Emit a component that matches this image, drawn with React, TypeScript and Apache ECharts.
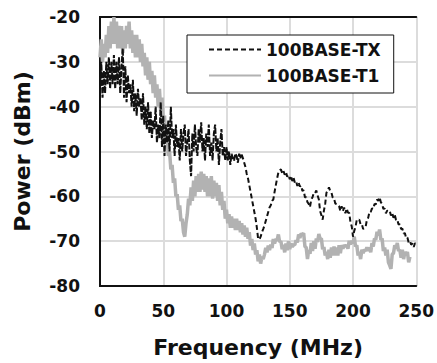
import React, { useEffect, useRef } from "react";
import * as echarts from "echarts";

// Frequency step: 1 MHz, starting at 0 MHz (index = MHz)
const xTicks = [0, 50, 100, 150, 200, 250];
const yTicks = [-80, -70, -60, -50, -40, -30, -20];

const seriesNames = ["100BASE-TX", "100BASE-T1"];

// 100BASE-TX power (dBm), 0..250 MHz
const txPower = [
  -36, -30, -38, -32, -37, -30, -35, -29, -36, -30,
  -35, -28.5, -36, -30, -35, -29, -37, -31, -27, -38,
  -31, -39, -33, -37, -35, -40, -34, -41, -37, -42,
  -36, -40, -38, -43, -37, -44, -40, -45, -39, -46,
  -41, -47, -43, -45, -40, -48, -44, -47, -39, -49,
  -42, -51, -44, -48, -43, -50, -40, -47, -45, -51,
  -44, -49, -47, -52, -45, -50, -46, -44, -51, -48,
  -45, -52, -55.5, -46, -50, -44, -49, -51, -45, -48,
  -43.5, -50, -47, -52, -46, -49, -44, -51, -48, -52,
  -46, -44, -50, -47, -53, -48, -45, -51, -49, -52,
  -49, -52, -50, -53, -50.5, -51.5, -52, -50.5, -51, -52.5,
  -50.5, -51.5, -50.7, -51.5, -52.5, -53.5, -55, -56, -57.5, -59,
  -60.5, -62, -63.5, -65, -67, -69.5, -69.6, -69, -68, -67.3,
  -66.5, -65.5, -64.5, -63.5, -62.5, -62, -61, -60.7, -59, -57.5,
  -56, -54.7, -54.2, -54, -54.8, -54.3, -55.2, -54.6, -55.6, -55.2,
  -56.2, -55.4, -56.6, -55.8, -56.9, -56.6, -57.7, -56.9, -57.8, -57.6,
  -58.8, -58.6, -60.2, -60.2, -61.3, -61.7, -62.4, -60.7, -60.2, -59.2,
  -59.3, -58.7, -59.8, -60.7, -63.3, -64.2, -65.2, -63.2, -61.7, -59.2,
  -58.7, -58, -58.8, -59.2, -60.3, -60.5, -61.6, -61.7, -61.8, -62.2,
  -63.3, -62.2, -63.3, -62.5, -63.8, -62.7, -63.6, -63.7, -65.8, -66.7,
  -69, -67.7, -66.8, -65.2, -65.3, -65.2, -66.3, -66.2, -67.3, -67,
  -66.8, -65.2, -64.8, -63.5, -63.5, -62.7, -62.8, -61.7, -61.8, -60.7,
  -61, -60.2, -61.3, -61.7, -62.8, -62.7, -63.8, -63.2, -63.3, -63.2,
  -64.3, -63.7, -64.8, -64.1, -65.3, -65.2, -66.3, -66.2, -67.3, -67.2,
  -68.3, -68.2, -69.3, -69.2, -70.3, -70, -70.8, -70.5, -71.3, -70.4,
  -71,
];

// 100BASE-T1 power (dBm), 0..245 MHz
const t1Power = [
  -29, -25, -30, -26, -29, -24, -28, -22, -27, -21,
  -26, -20, -26, -21, -27, -22, -27, -22, -28, -23,
  -27, -22, -26, -21, -27, -23, -28, -24, -29, -24,
  -29, -25, -30, -26, -31, -28, -33, -29, -34, -30,
  -35, -32, -37, -33, -38, -35, -40, -36, -41, -38,
  -43, -42, -47, -46, -51, -50, -54, -53, -57, -56,
  -60, -59.5, -63, -62, -65.5, -65, -68, -69, -66, -64,
  -60.5, -62, -58, -61, -56.5, -60, -55.5, -59, -55, -59,
  -54.5, -58.5, -55, -59, -55.5, -60, -56, -60, -55.5, -60.5,
  -56.5, -60, -57, -61, -57.5, -62, -59, -63, -61, -65,
  -63, -66, -64, -67, -64.5, -67, -65, -67.5, -65, -67.5,
  -65.5, -68, -66, -68.5, -66.5, -69, -67, -69.5, -68, -71,
  -69.5, -72, -70.5, -73, -72, -74.5, -73, -75, -73.5, -74,
  -73, -71.5, -72.5, -71, -72, -70.8, -71.5, -69.5, -70.5, -69.5,
  -69.8, -68.5, -70.2, -70, -71.8, -70.8, -72.5, -70.5, -72, -70,
  -71.8, -70.5, -71.3, -70.8, -70.8, -69.8, -70.3, -68.5, -69.3, -68.3,
  -68.6, -68.2, -71.2, -71.4, -74, -72, -72.8, -70.4, -72.2, -70,
  -71.7, -69.4, -70.2, -68.4, -69.5, -69.4, -71.8, -71.3, -73.2, -72.4,
  -74, -71.9, -73.7, -71.4, -73.2, -71.2, -73.2, -71.4, -73.2, -70.9,
  -72.7, -70.9, -71.7, -70.9, -71.2, -70.9, -71.7, -69.9, -70.7, -69.9,
  -70.5, -69, -71.2, -70.9, -73.2, -72.4, -74, -71.9, -72.7, -71.9,
  -72.2, -71.4, -72.2, -71.4, -72.5, -70.4, -71.2, -69.4, -69.7, -67.9,
  -68.7, -67.4, -69.7, -69.4, -72.2, -71.4, -73.2, -71.9, -74.7, -75.4,
  -76.2, -72.9, -72.7, -70.9, -71.7, -70.4, -72.2, -71.9, -73.7, -71.9,
  -74, -72.4, -73.2, -72.4, -74.7, -73.5,
];

// index where the noisy TX segment ends and the smoother segment begins
const txNoisyEnd = 112;

const FONT = "DejaVu Sans";

export default function App() {
  const ref = useRef<HTMLDivElement>(null);

  useEffect(() => {
    if (!ref.current) return;
    const chart = echarts.init(ref.current, undefined, { renderer: "svg" });
    const txData = txPower.map((v, i) => [i, v]);
    const t1Data = t1Power.map((v, i) => [i, v]);

    const axisText = { fontFamily: FONT, fontWeight: "bold", fontSize: 17, color: "#111" };

    chart.setOption({
      animation: false,
      backgroundColor: "#fff",
      grid: { left: 100, right: 18, top: 17, bottom: 76, containLabel: false },
      legend: {
        data: [seriesNames[0], seriesNames[1]],
        orient: "vertical",
        left: 187,
        top: 35,
        padding: [6, 13, 9, 21],
        itemWidth: 52,
        itemHeight: 14,
        itemGap: 9,
        itemStyle: { opacity: 0 },
        backgroundColor: "#fff",
        borderColor: "#111",
        borderWidth: 1,
        borderRadius: 0,
        textStyle: axisText,
      },
      xAxis: [
        {
          type: "value",
          min: xTicks[0],
          max: xTicks[xTicks.length - 1],
          interval: 50,
          name: "Frequency (MHz)",
          nameLocation: "middle",
          nameGap: 50,
          nameTextStyle: { fontFamily: FONT, fontWeight: "bold", fontSize: 22, color: "#111" },
          axisLine: { show: true, lineStyle: { color: "#111", width: 2 } },
          axisTick: { show: false },
          axisLabel: { margin: 16, ...axisText },
          splitLine: { show: true, lineStyle: { color: "#dcdcdc", width: 2 } },
        },
        {
          type: "value",
          position: "top",
          min: xTicks[0],
          max: xTicks[xTicks.length - 1],
          interval: 50,
          axisLine: { show: true, lineStyle: { color: "#111", width: 2 } },
          axisTick: { show: false },
          axisLabel: { show: false },
          splitLine: { show: false },
        },
      ],
      yAxis: [
        {
          type: "value",
          min: yTicks[0],
          max: yTicks[yTicks.length - 1],
          interval: 10,
          name: "Power (dBm)",
          nameLocation: "middle",
          nameRotate: 90,
          nameGap: 67,
          nameTextStyle: { fontFamily: FONT, fontWeight: "bold", fontSize: 22, color: "#111" },
          axisLine: { show: true, lineStyle: { color: "#111", width: 2 } },
          axisTick: { show: false },
          axisLabel: { margin: 20, ...axisText },
          splitLine: { show: true, lineStyle: { color: "#dcdcdc", width: 2 } },
        },
        {
          type: "value",
          position: "right",
          min: yTicks[0],
          max: yTicks[yTicks.length - 1],
          interval: 10,
          axisLine: { show: true, lineStyle: { color: "#111", width: 2 } },
          axisTick: { show: false },
          axisLabel: { show: false },
          splitLine: { show: false },
        },
      ],
      series: [
        {
          name: seriesNames[1],
          type: "line",
          data: t1Data,
          symbol: "none",
          lineStyle: { color: "#b2b2b2", width: 3.5 },
          itemStyle: { color: "#b2b2b2" },
          z: 2,
        },
        {
          name: seriesNames[0],
          type: "line",
          data: txData.slice(txNoisyEnd),
          symbol: "none",
          lineStyle: { color: "#111", width: 2, type: [5, 3] },
          itemStyle: { color: "#111" },
          z: 3,
        },
        {
          name: seriesNames[0],
          type: "line",
          data: txData.slice(0, txNoisyEnd + 1),
          symbol: "none",
          lineStyle: { color: "#111", width: 2, type: [6, 1.5] },
          itemStyle: { color: "#111" },
          z: 3,
        },
      ],
    });

    return () => chart.dispose();
  }, []);

  return (
    <div
      ref={ref}
      style={{ position: "fixed", left: 0, top: 0, width: 437, height: 363 }}
    />
  );
}
